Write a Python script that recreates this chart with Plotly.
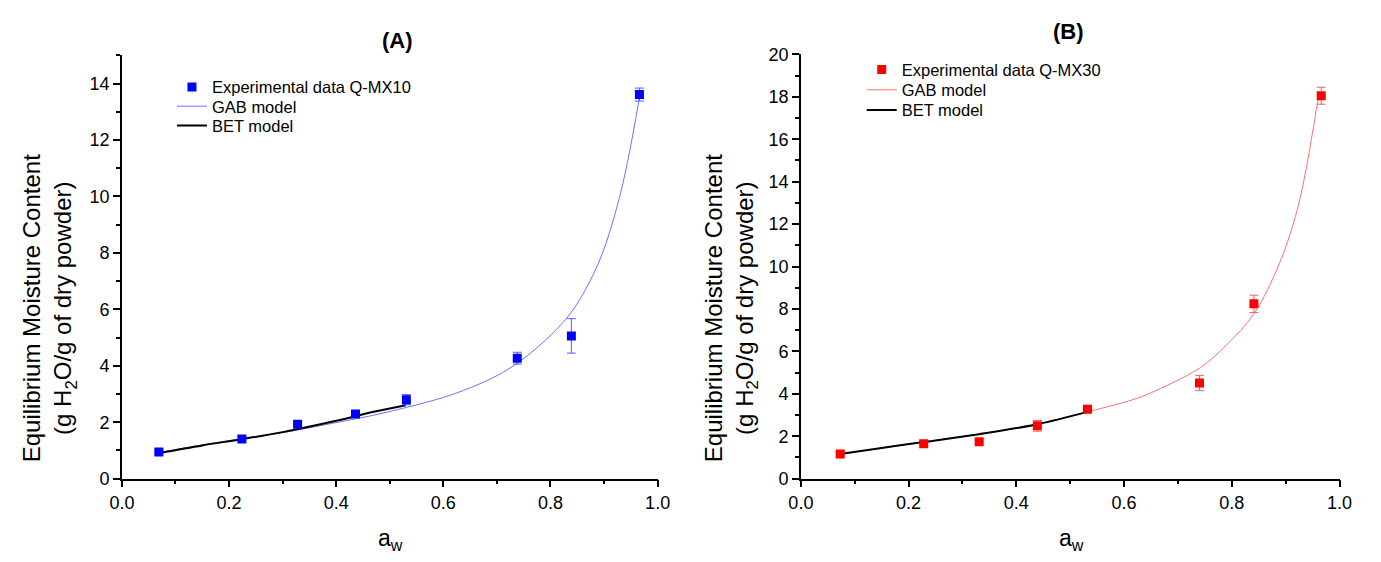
import plotly.graph_objects as go

# ---------------- data ----------------
# Panel A: Q-MX10
aw_exp_A = [0.069, 0.224, 0.328, 0.436, 0.531, 0.738, 0.839, 0.966]
emc_exp_A = [0.95, 1.41, 1.93, 2.29, 2.80, 4.27, 5.06, 13.61]
err_exp_A = [0.06, 0.07, 0.08, 0.10, 0.18, 0.21, 0.61, 0.23]

aw_gab_A = [0.07, 0.15, 0.224, 0.30, 0.40, 0.47, 0.53, 0.60, 0.65, 0.70, 0.74,
            0.79, 0.835, 0.865, 0.896, 0.926, 0.944, 0.966]
emc_gab_A = [0.93, 1.20, 1.42, 1.63, 1.99, 2.25, 2.52, 2.88, 3.22, 3.65, 4.12,
             4.90, 5.80, 6.69, 7.94, 9.76, 11.24, 13.50]

aw_bet_A = [0.07, 0.15, 0.224, 0.30, 0.40, 0.47, 0.53]
emc_bet_A = [0.91, 1.18, 1.40, 1.65, 2.05, 2.37, 2.60]

# Panel B: Q-MX30
aw_exp_B = [0.073, 0.228, 0.331, 0.439, 0.532, 0.740, 0.841, 0.966]
emc_exp_B = [1.16, 1.65, 1.74, 2.49, 3.27, 4.51, 8.24, 18.05]
err_exp_B = [0.08, 0.10, 0.10, 0.25, 0.10, 0.36, 0.41, 0.40]

aw_gab_B = [0.073, 0.15, 0.228, 0.331, 0.439, 0.532, 0.56, 0.60, 0.633, 0.68,
            0.742, 0.79, 0.841, 0.887, 0.918, 0.936, 0.951, 0.962, 0.966]
emc_gab_B = [1.16, 1.45, 1.73, 2.11, 2.57, 3.15, 3.33, 3.60, 3.87, 4.40,
             5.24, 6.30, 7.77, 10.06, 12.35, 14.33, 16.48, 18.00, 18.15]

aw_bet_B = [0.073, 0.15, 0.228, 0.331, 0.439, 0.532]
emc_bet_B = [1.16, 1.45, 1.73, 2.10, 2.57, 3.15]

x_ticks = [0.0, 0.2, 0.4, 0.6, 0.8, 1.0]
y_ticks_A = [0, 2, 4, 6, 8, 10, 12, 14]
y_ticks_B = [0, 2, 4, 6, 8, 10, 12, 14, 16, 18, 20]

# ---------------- figure ----------------
W, H = 1381, 562
FONT = "Liberation Sans, Arial, sans-serif"


def px_x(p):
    return p / W


def px_y(p):
    return (H - p) / H


fig = go.Figure()


def add_panel(xa, ya, legs, aw_g, m_g, aw_b, m_b, aw_e, m_e, e_e,
              gab_col, mark_col, err_col, label):
    fig.add_trace(go.Scatter(
        x=aw_g, y=m_g, mode="lines", name="GAB model",
        line=dict(color=gab_col, width=1, shape="spline", smoothing=1.0),
        xaxis=xa, yaxis=ya, legend=legs[1]))
    fig.add_trace(go.Scatter(
        x=aw_b, y=m_b, mode="lines", name="BET model",
        line=dict(color="black", width=2, shape="spline", smoothing=1.0),
        xaxis=xa, yaxis=ya, legend=legs[2]))
    fig.add_trace(go.Scatter(
        x=aw_e, y=m_e, mode="markers", name=label,
        marker=dict(symbol="square", size=9, color=mark_col, line=dict(width=0)),
        error_y=dict(type="data", array=e_e, visible=True, color=err_col,
                     thickness=1, width=4.5),
        xaxis=xa, yaxis=ya, legend=legs[0]))


add_panel("x", "y", ["legend", "legend2", "legend3"],
          aw_gab_A, emc_gab_A, aw_bet_A, emc_bet_A,
          aw_exp_A, emc_exp_A, err_exp_A, "#6f6fff", "#0000ff", "#5a5aff",
          "Experimental data Q-MX10")
add_panel("x2", "y2", ["legend4", "legend5", "legend6"],
          aw_gab_B, emc_gab_B, aw_bet_B, emc_bet_B,
          aw_exp_B, emc_exp_B, err_exp_B, "#ff6f6f", "#ff0000", "#ff5a5a",
          "Experimental data Q-MX30")

axis_common = dict(
    showline=True, linecolor="black", linewidth=1.5,
    ticks="outside", ticklen=7, tickwidth=1.5, tickcolor="black",
    showgrid=False, zeroline=False,
    tickfont=dict(family=FONT, size=18, color="black"),
)


def minor(d):
    return dict(ticks="outside", ticklen=4, tickwidth=1.5,
                tickcolor="black", dtick=d, showgrid=False)


def leg(xp, yp):
    return dict(x=px_x(xp), y=px_y(yp), xanchor="left", yanchor="middle",
                bgcolor="rgba(0,0,0,0)", borderwidth=0,
                font=dict(family=FONT, size=16.5, color="black"),
                tracegroupgap=0, itemwidth=30)


fig.update_layout(
    xaxis=dict(domain=[px_x(111), px_x(657)], range=[0, 1], anchor="y",
               tickvals=x_ticks, tickformat=".1f", minor=minor(0.1),
               **axis_common),
    yaxis=dict(domain=[px_y(486), px_y(47)], range=[0, 15], anchor="x",
               tickvals=y_ticks_A, minor=minor(1), **axis_common),
    xaxis2=dict(domain=[px_x(803), px_x(1352)], range=[0, 1], anchor="y2",
                tickvals=x_ticks, tickformat=".1f", minor=minor(0.1),
                **axis_common),
    yaxis2=dict(domain=[px_y(486), px_y(46)], range=[0, 20], anchor="x2",
                tickvals=y_ticks_B, minor=minor(1), **axis_common),
    width=W, height=H,
    margin=dict(l=0, r=0, t=0, b=0, pad=0),
    paper_bgcolor="white", plot_bgcolor="white",
    font=dict(family=FONT, color="black"),
    legend=leg(162, 80), legend2=leg(162, 100), legend3=leg(162, 120),
    legend4=leg(865, 62), legend5=leg(865, 83), legend6=leg(865, 104),
    showlegend=True,
)

ylabel = "Equilibrium Moisture Content<br>(g H<sub>2</sub>O/g of dry powder)"
annots = [
    dict(text="<b>(A)</b>", x=px_x(392), y=px_y(32), size=22),
    dict(text="<b>(B)</b>", x=px_x(1076), y=px_y(22), size=22),
    dict(text="a<sub>w</sub>", x=px_x(385), y=px_y(549), size=23),
    dict(text="a<sub>w</sub>", x=px_x(1079), y=px_y(549), size=23),
]
for a in annots:
    fig.add_annotation(text=a["text"], x=a["x"], y=a["y"], xref="paper",
                       yref="paper", xanchor="center", yanchor="middle",
                       showarrow=False,
                       font=dict(family=FONT, size=a["size"], color="black"))
for xc in (37, 732):
    fig.add_annotation(text=ylabel, x=px_x(xc), y=px_y(309), xref="paper",
                       yref="paper", xanchor="center", yanchor="middle",
                       textangle=-90, showarrow=False,
                       font=dict(family=FONT, size=24, color="black"))

fig.write_html("out.html")
